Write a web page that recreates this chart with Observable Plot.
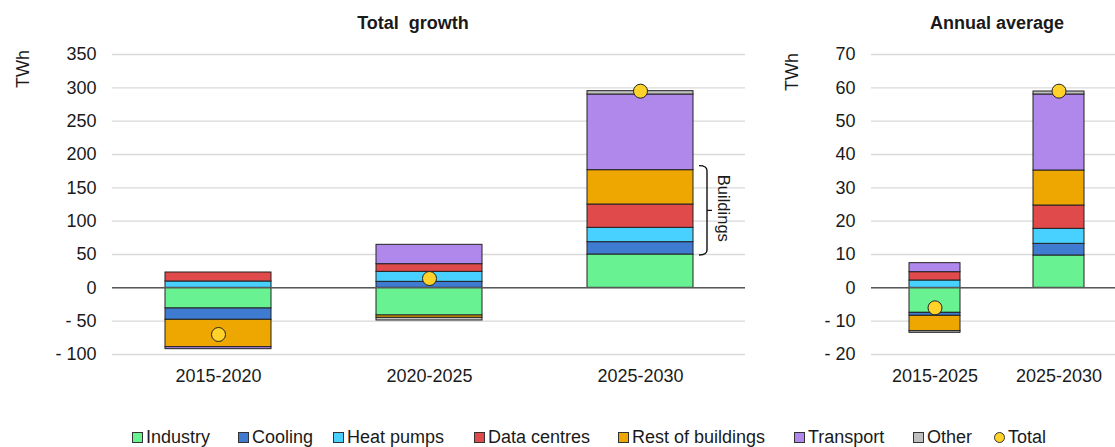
<!DOCTYPE html>
<html><head><meta charset="utf-8">
<script src="https://cdn.jsdelivr.net/npm/d3@7"></script>
<script src="https://cdn.jsdelivr.net/npm/@observablehq/plot@0.6"></script>
<style>
body{margin:0;background:#fff;}
#page{position:relative;width:1115px;height:447px;overflow:hidden;font-family:"Liberation Sans",Arial,sans-serif;color:#1a1a1a;}
.abs{position:absolute;}
.title{position:absolute;font-weight:bold;font-size:18px;line-height:1;white-space:pre;transform:translateX(-50%);}
.ylab{position:absolute;font-size:18px;line-height:1;transform:translate(-50%,-50%) rotate(-90deg);}
.leg{position:absolute;top:428px;font-size:18px;line-height:18px;display:flex;align-items:center;white-space:nowrap;}
.sw{width:9px;height:9px;border:1px solid #333;margin-right:3px;}
.sw.dot{border-radius:50%;}
</style></head><body><div id="page"></div>
<script>
// ---- data ----
const seriesNames = ["Industry","Cooling","Heat pumps","Data centres","Rest of buildings","Transport","Other"];
const seriesColors = ["#68f291","#3e7bd1","#48d1ff","#e04a4a","#eea700","#b088ec","#bfbfbf"];
const totalColor = "#ffd22a";

const growthCats = ["2015-2020","2020-2025","2025-2030"];
const growthIndustry   = [-31, -41.5, 50];
const growthCooling    = [-17, 9, 18.5];
const growthHeatPumps  = [9.5, 15, 21.5];
const growthDataCentres= [13.5, 11.5, 35];
const growthRest       = [-41, -3.5, 51.5];
const growthTransport  = [-3, 29, 113.5];
const growthOther      = [0, -4, 5];
const growthTotal      = [-70, 14, 295];
const growthTicks = [-100,-50,0,50,100,150,200,250,300,350];

const avgCats = ["2015-2025","2025-2030"];
const avgIndustry   = [-7.5, 9.7];
const avgCooling    = [-0.9, 3.5];
const avgHeatPumps  = [2.2, 4.5];
const avgDataCentres= [2.5, 7];
const avgRest       = [-4.6, 10.5];
const avgTransport  = [2.7, 22.8];
const avgOther      = [-0.5, 0.9];
const avgTotal      = [-6, 59];
const avgTicks = [-20,-10,0,10,20,30,40,50,60,70];

const page = document.getElementById("page");
const FONT = '"Liberation Sans", Arial, sans-serif';
const fmt = d => d < 0 ? "- " + (-d) : String(d);

function makeChart({cats, values, totals, ticks, width, marginLeft, marginRight, padIn, padOut, extra}) {
  const rows = [];
  seriesNames.forEach((s, j) => cats.forEach((c, i) => rows.push({cat: c, series: s, value: values[j][i]})));
  const tot = cats.map((c, i) => ({cat: c, value: totals[i]}));
  return Plot.plot({
    width, height: 400, marginTop: 54, marginBottom: 46, marginLeft, marginRight,
    style: {fontFamily: FONT, fontSize: "18px", color: "#1a1a1a", background: "transparent", overflow: "visible"},
    x: {domain: cats, paddingInner: padIn, paddingOuter: padOut, label: null},
    y: {domain: [ticks[0], ticks[ticks.length - 1]], label: null},
    color: {domain: seriesNames, range: seriesColors},
    marks: [
      Plot.gridY(ticks, {stroke: "#d9d9d9", strokeOpacity: 1, strokeWidth: 1.3}),
      Plot.axisY(ticks, {tickSize: 0, tickPadding: 16, tickFormat: fmt, label: null}),
      Plot.axisX({tickSize: 0, tickPadding: 15, label: null}),
      Plot.barY(rows, {x: "cat", y: "value", fill: "series", order: seriesNames, stroke: "#222", strokeWidth: 1}),
      Plot.ruleY([0], {stroke: "#595959", strokeWidth: 1.5}),
      ...(extra || []),
      Plot.dot(tot, {x: "cat", y: "value", r: 7, fill: totalColor, stroke: "#222", strokeWidth: 1})
    ]
  });
}

// Buildings bracket: spans Cooling..Rest of buildings in the last period
const bIdx = growthCats.length - 1;
const bracketLo = growthIndustry[bIdx];
const bracketHi = growthIndustry[bIdx] + growthCooling[bIdx] + growthHeatPumps[bIdx] + growthDataCentres[bIdx] + growthRest[bIdx];
const bracketMark = (index, scales) => {
  const sx = scales.x, sy = scales.y;
  const bw = typeof sx.bandwidth === "function" ? sx.bandwidth() : (sx.bandwidth || 0);
  const X = sx(growthCats[bIdx]) + bw + 14;
  const top = sy(bracketHi) - 4, bot = sy(bracketLo) + 1, mid = (top + bot) / 2;
  const g = d3.create("svg:g");
  g.append("path")
    .attr("d", `M${X-8},${top} Q${X},${top} ${X},${top+5} V${bot-5} Q${X},${bot} ${X-8},${bot} M${X},${mid} H${X+5}`)
    .attr("fill", "none").attr("stroke", "#111").attr("stroke-width", 1.4);
  g.append("text").text("Buildings")
    .attr("transform", `translate(${X+17},${mid-2}) rotate(90)`)
    .attr("text-anchor", "middle").attr("dominant-baseline", "central")
    .attr("font-size", "16.5px").attr("fill", "#1a1a1a");
  return g.node();
};

const left = makeChart({
  cats: growthCats,
  values: [growthIndustry, growthCooling, growthHeatPumps, growthDataCentres, growthRest, growthTransport, growthOther],
  totals: growthTotal, ticks: growthTicks,
  width: 760, marginLeft: 112, marginRight: 15, padIn: 0.5, padOut: 0.25,
  extra: [bracketMark]
});
left.style.position = "absolute"; left.style.left = "0px"; left.style.top = "0px";
page.appendChild(left);

const right = makeChart({
  cats: avgCats,
  values: [avgIndustry, avgCooling, avgHeatPumps, avgDataCentres, avgRest, avgTransport, avgOther],
  totals: avgTotal, ticks: avgTicks,
  width: 370, marginLeft: 111, marginRight: 8, padIn: 0.59, padOut: 0.3
});
right.style.position = "absolute"; right.style.left = "760px"; right.style.top = "0px";
page.appendChild(right);

// titles and axis labels
function addDiv(cls, text, left, top) {
  const d = document.createElement("div");
  d.className = cls; d.textContent = text;
  d.style.left = left + "px"; d.style.top = top + "px";
  page.appendChild(d);
  return d;
}
addDiv("title", "Total  growth", 413, 14);
addDiv("title", "Annual average", 997, 14);
addDiv("ylab", "TWh", 22.5, 69);
addDiv("ylab", "TWh", 792, 71.5);

// legend
const legendX = [132, 238, 333, 474, 618, 794, 913, 994];
const legendItems = seriesNames.map((n, i) => ({name: n, color: seriesColors[i], dot: false}))
  .concat([{name: "Total", color: totalColor, dot: true}]);
legendItems.forEach((it, i) => {
  const d = document.createElement("div");
  d.className = "leg"; d.style.left = legendX[i] + "px";
  const sw = document.createElement("span");
  sw.className = "sw" + (it.dot ? " dot" : ""); sw.style.background = it.color;
  const t = document.createElement("span"); t.textContent = it.name;
  d.appendChild(sw); d.appendChild(t);
  page.appendChild(d);
});
</script></body></html>
